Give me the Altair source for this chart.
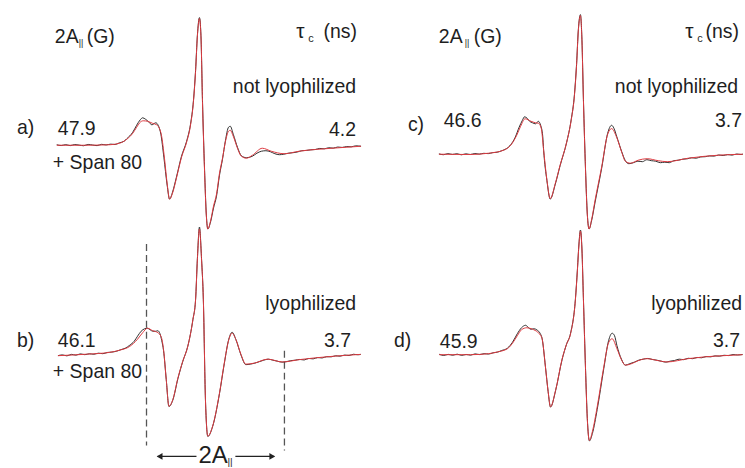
import altair as alt
import pandas as pd

# ---------------- values ----------------
A_PAR = ["47.9", "46.1", "46.6", "45.9"]          # 2A|| (G)
TAU_C = ["4.2", "3.7", "3.7", "3.7"]              # tau_c (ns)
PANEL_TAGS = ["a)", "b)", "c)", "d)"]
STATES = ["not lyophilized", "lyophilized", "not lyophilized", "lyophilized"]
SPAN = "+ Span 80"
A_MARK_B = [-17.7, 28.4]                          # field positions of the 2A|| markers (G)

# (field offset in G, derivative signal in arb. units): experiment (black) and simulation (red)
a_exp = [(-47.7,0.5),(-46.2,-0.3),(-44.7,0.6),(-43.2,-0.4),(-41.7,0.7),(-40.2,0.1),(-38.7,-0.5),(-37.2,0.8),
         (-35.7,0.2),(-34.2,-0.4),(-32.7,0.9),(-31.2,0.3),(-29.7,1.1),(-28.2,0.8),(-26.7,2.5),(-25.2,4),
         (-24.3,6.5),(-22.3,13),(-21,20),(-19.8,25.5),(-19,27.5),(-18,26),(-17,23.5),(-15.9,20.5),(-14.6,22.5),
         (-13.8,20),(-12.9,11),(-11.9,-12),(-10.8,-40),(-10,-54),(-9,-47),(-7.7,-32),(-6,-11),(-4.3,4),(-3,21),
         (-2,45),(-1.3,75),(-0.7,110),(0,128),(0.5,110),(1,46),(1.7,-24),(2.3,-70),(2.8,-84),(3.7,-77),(4.7,-63),
         (5.7,-51),(6.7,-30),(7.7,-14),(8.7,5),(9.7,18),(10.3,19),(11.3,11),(12.7,-2),(14,-10.5),(15.7,-12.5),
         (17.7,-11),(19.2,-8),(20.7,-6),(22.2,-5.5),(23.7,-6.5),(25.2,-8.5),(26.7,-9.5),(28.2,-9),(29.7,-8),
         (31.2,-7.5),(32.7,-6.8),(34.2,-5.5),(35.7,-5.2),(37.2,-4.6),(38.7,-4.3),(40.2,-3.2),(41.7,-3.6),
         (43.2,-2.5),(44.7,-2.9),(46.2,-1.8),(47.7,-2.2),(49.2,-1.3),(50.7,-1.6),(52.2,-0.6),(54,-1)]
a_sim = [(-47.7,0),(-39,0),(-30,0.5),(-26.7,2),(-24.3,6),(-22.3,12),(-21,18),(-20,22.5),(-18.8,24.5),
         (-17.3,24),(-15.7,22),(-14.3,20.5),(-13.5,17.5),(-12.7,10),(-11.7,-13),(-10.7,-41),(-10,-54),(-9,-48),
         (-7.7,-33),(-6,-12),(-4.3,3),(-3,20),(-2,44),(-1.3,74),(-0.7,109),(0,127),(0.5,109),(1,44),(1.7,-26),
         (2.3,-71),(2.8,-84),(3.7,-76),(4.7,-61),(5.7,-49),(6.7,-28),(7.7,-13),(8.7,4),(9.7,14),(10.3,15),
         (11.3,9),(12.7,-3),(14,-11),(15.7,-13),(17.7,-10),(21,-3),(24,-6),(28.3,-8.5),(33.3,-6),(44.3,-3),(54,-1)]

b_exp = [(-47.3,-1),(-45.8,-0.2),(-44.3,-1.2),(-42.8,0.3),(-41.3,-0.5),(-39.8,0.8),(-38.3,0),(-36.8,0.9),
         (-35.3,0.4),(-33.8,1.5),(-32.3,1),(-30.8,2.2),(-29.3,2.6),(-27.8,3.4),(-26.3,5),(-24.8,6.5),(-23.3,9.5),
         (-21.8,13.5),(-20.7,18.5),(-19.5,23.5),(-18.3,26),(-17.4,26.5),(-16.5,25),(-15.6,23.5),(-14.6,23.5),
         (-13.9,24),(-13.2,21),(-12.6,14),(-12,4),(-11.1,-25),(-10.2,-52),(-8.9,-45.5),(-7.2,-24),(-5.6,-7),
         (-3.9,8.5),(-2.2,35),(-1.3,55),(-0.7,96),(0,128),(0.7,96),(1.3,55),(2,-45),(2.8,-82),(4.4,-72),
         (6.7,-39),(8.3,-9),(9.8,15.5),(10.9,22.5),(12.2,15),(13.9,-0.5),(15.5,-10),(17,-9.5),(18.5,-8.5),
         (20,-7),(21.5,-5.5),(23,-4.5),(24.5,-5.5),(26,-6.5),(27.5,-7.5),(29,-7),(30.5,-6),(32,-5.5),(33.5,-4.8),
         (35,-5.3),(36.5,-3.8),(38,-4.2),(39.5,-2.9),(41,-3.3),(42.5,-2),(44,-2.2),(45.5,-1.1),(47,-1.5),
         (48.5,-0.4),(50,-0.8),(51.5,0.4),(53,-0.1),(53.9,0.3)]
b_sim = [(-47.3,-1),(-37.7,0.5),(-30,2.3),(-26.7,4.5),(-23.3,8.3),(-20.7,15.5),(-19,22),(-17.4,26.5),
         (-15.6,24),(-13.9,22),(-12.8,18),(-12,5),(-11.1,-25),(-10.2,-51.7),(-8.9,-45),(-7.2,-23.3),(-5.6,-6.7),
         (-3.9,8.3),(-2.2,35),(-1.3,55),(-0.7,95),(0,126),(0.7,95),(1.3,55),(2,-45),(2.8,-81.7),(4.4,-71.7),
         (6.7,-38.3),(8.3,-8.3),(9.8,15),(10.9,21.5),(12.2,15),(13.9,0),(15.5,-9.5),(18.3,-8.5),(22.8,-4.5),
         (27.8,-7.3),(33.3,-5),(44.3,-1.7),(53.9,0.3)]

c_exp = [(-47.3,0.3),(-45.8,-0.5),(-44.3,0.6),(-42.8,-0.2),(-41.3,0.5),(-39.8,-0.6),(-38.3,0.4),(-36.8,-0.3),
         (-35.3,0.7),(-33.8,0.1),(-32.3,0.9),(-30.8,0.6),(-29.3,1.6),(-27.8,2),(-26.3,3.5),(-24.8,5.5),
         (-23.3,9.5),(-21.8,17),(-20.5,27),(-19.4,34),(-18.7,37.5),(-17.8,36),(-17,33),(-16,31.5),(-15,30.5),
         (-14.1,33),(-13.3,29),(-12.6,18),(-12.3,4),(-11.2,-26.5),(-10.1,-45),(-8.4,-30),(-6.8,-11.5),(-4.6,12),
         (-3.1,34.5),(-2,60),(-1.3,90),(-0.7,125),(0,140),(0.5,115),(1,55),(1.7,-15),(2.3,-60),(2.9,-75),
         (3.7,-67),(4.9,-48),(7.1,-14),(9.1,21),(10.4,29),(11.2,26),(12.1,18),(13.8,2.5),(15,-6.5),(16.2,-9.5),
         (17.7,-8.5),(19.2,-7),(20.7,-7.5),(22.2,-5.5),(23.7,-6.5),(25.2,-7),(26.7,-8.5),(28.2,-8),(29.7,-8.5),
         (31.2,-6.5),(32.7,-6),(34.2,-5),(35.7,-4.6),(37.2,-3.6),(38.7,-4),(40.2,-2.7),(41.7,-2.5),(43.2,-1.7),
         (44.7,-1.9),(46.2,-0.8),(47.7,-1.3),(49.2,-0.4),(50.7,-0.9),(52.2,0.2),(53.7,-0.3),(54.3,0.1)]
c_sim = [(-47.3,0),(-37.3,-0.3),(-30.7,1),(-25.7,4),(-23.3,9),(-21.3,19),(-20,28),(-18.5,35.5),(-16.5,33),
         (-15,31.5),(-14,31),(-13.1,26),(-12.3,4),(-11.2,-26),(-10.1,-44.5),(-8.4,-29.3),(-6.8,-11),(-4.6,12),
         (-3.1,34),(-2,59),(-1.3,89),(-0.7,124),(0,139),(0.5,114),(1,54),(1.7,-16),(2.3,-61),(2.9,-75),(3.7,-66),
         (4.9,-46),(7.1,-12.7),(9.1,20),(10.4,25.7),(12.1,17),(13.8,2),(15,-7),(16.7,-9),(19.3,-6),(22.3,-4.5),
         (26,-6.5),(29,-7.5),(36,-4),(46,-1),(54.3,0)]

d_exp = [(-47.2,0.4),(-45.7,-0.8),(-44.2,0.3),(-42.7,-0.6),(-41.2,0.5),(-39.7,-0.7),(-38.2,0.2),(-36.7,-0.5),
         (-35.2,0.8),(-33.7,0.1),(-32.2,1),(-30.7,0.6),(-29.2,1.9),(-27.8,2.5),(-26.3,4.2),(-24.4,6.5),
         (-22.7,12.5),(-21.1,21),(-19.7,27),(-18.3,29.5),(-17.5,27.5),(-16.6,25.5),(-15.6,26),(-14.4,24.5),
         (-13.5,21.5),(-12.8,16),(-11.7,-12),(-10.8,-37),(-10,-52.5),(-8.3,-36),(-6.1,-4.5),(-4.7,10),(-3.3,21.5),
         (-1.7,55),(-1,86),(-0.5,111),(0,125),(0.5,106),(1,56),(1.7,-14),(2.3,-64),(3,-86.5),(4,-79),(5.6,-55),
         (7.8,-14),(9.4,14),(10.6,21.5),(11.4,19),(12.2,9),(13.7,-4.5),(15,-10.5),(16.5,-9),(18,-7.5),(19.5,-5.5),
         (21,-4.5),(22.5,-3.8),(24,-4.8),(25.5,-5.5),(27,-6.5),(28.5,-7.5),(30,-6.5),(31.5,-5.8),(33,-4.5),
         (34.5,-5),(36,-3.6),(37.5,-4),(39,-2.8),(40.5,-3.1),(42,-1.9),(43.5,-2.2),(45,-1.2),(46.5,-1.5),
         (48,-0.6),(49.5,-0.9),(51,0.1),(52.5,-0.3),(54.2,0.2)]
d_sim = [(-47.2,0),(-36.7,0),(-30.7,1),(-27.8,2.7),(-24.4,6),(-22.7,11.5),(-21.1,19),(-19.7,25),(-17.9,27),
         (-16,25.5),(-14.3,22.5),(-12.9,17),(-11.7,-12.3),(-10.8,-37),(-10,-52.3),(-8.3,-35.7),(-6.1,-4),
         (-4.7,10),(-3.3,21),(-1.7,54.3),(-1,85),(-0.5,110),(0,124),(0.5,105),(1,55),(1.7,-15),(2.3,-65),
         (3,-86),(4,-77),(5.6,-52.3),(7.8,-12.3),(9.4,12),(10.6,16),(12.2,6),(13.7,-5),(15,-10.5),(16.7,-9.5),
         (19.3,-6),(22.2,-4),(26,-6),(28.9,-7.3),(36,-4),(41.1,-2.3),(47.7,-1),(54.2,0)]

# ---------------- styling ----------------
BLACK = "#2e2e2e"
RED = "#dc3a40"
TXT = "#1e1e1e"
FONT = "Liberation Sans"
FS = 19.5
PANEL_H = 234
ONE = pd.DataFrame({"k": [0]})


def spectrum_layers(exp, sim, xs, ys):
    dexp = pd.DataFrame(exp, columns=["B", "S"])
    dsim = pd.DataFrame(sim, columns=["B", "S"])
    enc = dict(x=alt.X("B:Q", scale=xs, axis=None), y=alt.Y("S:Q", scale=ys, axis=None))
    l1 = alt.Chart(dexp).mark_line(color=BLACK, strokeWidth=1.0, interpolate="monotone", clip=False).encode(**enc)
    l2 = alt.Chart(dsim).mark_line(color=RED, strokeWidth=1.0, interpolate="monotone", clip=False).encode(**enc)
    return [l1, l2]


def label(text, x, y, size=FS, align="left"):
    return alt.Chart(ONE).mark_text(text=text, font=FONT, fontSize=size, align=align,
                                    baseline="alphabetic", color=TXT).encode(x=alt.value(x), y=alt.value(y))


def panel(exp, sim, xdom, ydom, w, labels, extra=None):
    xs = alt.Scale(domain=xdom, nice=False, zero=False)
    ys = alt.Scale(domain=ydom, nice=False, zero=False)
    layers = []
    if extra is not None:
        layers += extra(xs, ys)
    layers += spectrum_layers(exp, sim, xs, ys)
    layers += labels
    return alt.layer(*layers).properties(width=w, height=PANEL_H)


def header(x2a, xsub, xg, xtau, xc, xns):
    return [label("2A", x2a, 42), label("||", xsub, 45, size=9), label("(G)", xg, 42),
            label("\u03c4", xtau, 37, size=21), label("c", xc, 41, size=11), label("(ns)", xns, 37, align="right")]


def b_extras(xs, ys):
    out = []
    for bval, y1, y2 in [(A_MARK_B[0], 10, 212), (A_MARK_B[1], 117, 217)]:
        out.append(alt.Chart(pd.DataFrame({"B": [bval]})).mark_rule(
            strokeDash=[7, 4], color="#555555", strokeWidth=1.3).encode(
            x=alt.X("B:Q", scale=xs, axis=None), y=alt.value(y1), y2=alt.value(y2)))
    arrow_y = 223
    out.append(alt.Chart(ONE).mark_rule(color="#222222", strokeWidth=1.2).encode(
        x=alt.value(158), x2=alt.value(197), y=alt.value(arrow_y)))
    out.append(alt.Chart(ONE).mark_rule(color="#222222", strokeWidth=1.2).encode(
        x=alt.value(236), x2=alt.value(275), y=alt.value(arrow_y)))
    out.append(alt.Chart(ONE).mark_point(shape="triangle-left", filled=True, size=45, color="#222222",
                                         opacity=1).encode(x=alt.value(160), y=alt.value(arrow_y)))
    out.append(alt.Chart(ONE).mark_point(shape="triangle-right", filled=True, size=45, color="#222222",
                                         opacity=1).encode(x=alt.value(273), y=alt.value(arrow_y)))
    out.append(label("2A", 199, 230, size=24))
    out.append(label("||", 228, 232, size=10))
    return out


XL = [-66.667, 57.333]   # left column field window (G)
XR = [-70.0, 54.333]     # right column field window (G)

pa = panel(a_exp, a_sim, XL, [-89, 145], 372,
           header(55, 79, 87, 297, 309, 358) + [
               label(STATES[0], 357, 93, align="right"),
               label(PANEL_TAGS[0], 17, 134),
               label(A_PAR[0], 58, 135),
               label(TAU_C[0], 357, 136, align="right"),
               label(SPAN, 53, 169)])

pb = panel(b_exp, b_sim, XL, [-113, 121], 372,
           [label(STATES[1], 357, 76, align="right"),
            label(PANEL_TAGS[1], 17, 113),
            label(A_PAR[1], 58, 113),
            label(TAU_C[1], 352, 113, align="right"),
            label(SPAN, 53, 144)],
           extra=b_extras)

pc = panel(c_exp, c_sim, XR, [-80, 154], 373,
           header(68, 94, 103, 315, 327, 369) + [
               label(STATES[2], 368, 93, align="right"),
               label(PANEL_TAGS[2], 37, 131),
               label(A_PAR[2], 73, 127),
               label(TAU_C[2], 372, 127, align="right")])

pd_ = panel(d_exp, d_sim, XR, [-113, 121], 373,
            [label(STATES[3], 372, 76, align="right"),
             label(PANEL_TAGS[3], 23, 113),
             label(A_PAR[3], 69, 114),
             label(TAU_C[3], 370, 113, align="right")])

chart = alt.concat(pa, pc, pb, pd_, columns=2, spacing=0, bounds="flush").configure_view(
    stroke=None).properties(padding=0, background="white")

chart.save("out.html", embed_options={"renderer": "svg", "actions": False})
